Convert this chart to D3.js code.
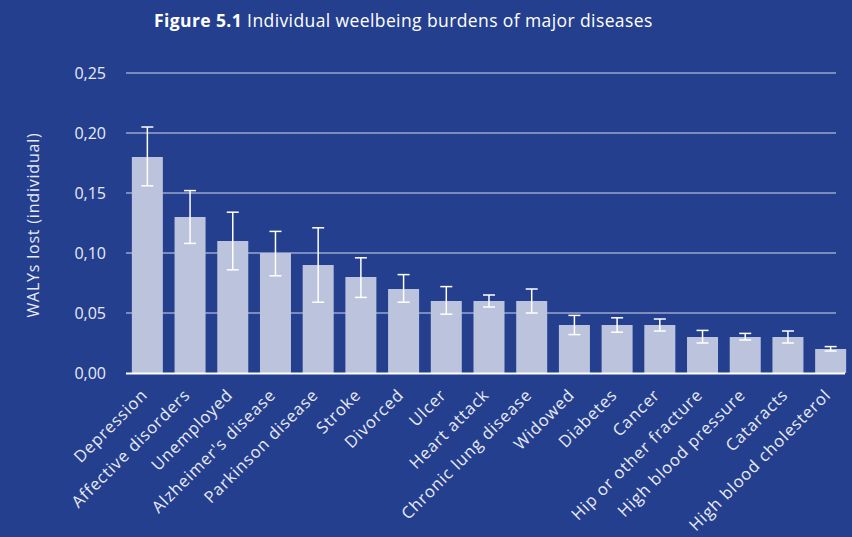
<!DOCTYPE html>
<html>
<head>
<meta charset="utf-8">
<script src="https://cdn.jsdelivr.net/npm/d3@7"></script>
<style>
  html, body { margin: 0; padding: 0; background: #253f8f; }
  svg { display: block; }
  text { font-family: "Open Sans", "Noto Sans", sans-serif; fill: #e8ebf5; }
</style>
</head>
<body>
<svg id="chart" width="852" height="537"></svg>
<script>
// Burden of each condition: WALYs lost per individual, with interval bounds
const categories = ["Depression", "Affective disorders", "Unemployed", "Alzheimer's disease",
  "Parkinson disease", "Stroke", "Divorced", "Ulcer", "Heart attack", "Chronic lung disease",
  "Widowed", "Diabetes", "Cancer", "Hip or other fracture", "High blood pressure",
  "Cataracts", "High blood cholesterol"];
const values = [0.18, 0.13, 0.11, 0.10, 0.09, 0.08, 0.07, 0.06, 0.06, 0.06,
  0.04, 0.04, 0.04, 0.03, 0.03, 0.03, 0.02];
const upper = [0.205, 0.152, 0.134, 0.118, 0.121, 0.096, 0.082, 0.072, 0.065, 0.070,
  0.048, 0.046, 0.045, 0.0355, 0.033, 0.035, 0.022];
const lower = [0.156, 0.108, 0.086, 0.081, 0.059, 0.063, 0.059, 0.049, 0.055, 0.050,
  0.032, 0.034, 0.035, 0.025, 0.0275, 0.025, 0.0183];
const yTicks = [0, 0.05, 0.10, 0.15, 0.20, 0.25];

const svg = d3.select("#chart");
const plotLeft = 126, plotRight = 852, plotTop = 73, plotBottom = 373;

const x = d3.scaleBand().domain(categories).range([plotLeft, plotRight])
  .paddingInner(0.274).paddingOuter(0.137);
const y = d3.scaleLinear().domain([0, 0.25]).range([plotBottom, plotTop]);
const fmt = v => d3.format(".2f")(v).replace(".", ",");

// title
const title = svg.append("text").attr("x", 154).attr("y", 27)
  .style("font-size", "17.5px").style("letter-spacing", "0.4px").style("fill", "#ffffff");
title.append("tspan").attr("font-weight", "bold").text("Figure 5.1");
title.append("tspan").text(" Individual weelbeing burdens of major diseases");

// gridlines and y tick labels
const yAxis = svg.append("g");
yAxis.selectAll("line.grid").data(yTicks.slice(1)).join("line")
  .attr("class", "grid")
  .attr("x1", plotLeft).attr("x2", 836)
  .attr("y1", d => y(d)).attr("y2", d => y(d))
  .attr("stroke", "#c3cae3").attr("stroke-opacity", 0.55).attr("stroke-width", 2);
yAxis.selectAll("text").data(yTicks).join("text")
  .attr("x", 106).attr("y", d => y(d)).attr("dy", "0.35em")
  .attr("text-anchor", "end").style("font-size", "16px")
  .text(fmt);

// y axis title
svg.append("text")
  .attr("transform", `translate(39,225) rotate(-90)`)
  .attr("text-anchor", "middle").style("font-size", "16px").style("letter-spacing", "0.8px")
  .text("WALYs lost (individual)");

// bars
svg.append("g").selectAll("rect").data(categories).join("rect")
  .attr("x", d => x(d)).attr("width", x.bandwidth())
  .attr("y", (d, i) => y(values[i])).attr("height", (d, i) => y(0) - y(values[i]))
  .attr("fill", "#bcc3dc");

// baseline
svg.append("line").attr("x1", plotLeft).attr("x2", 845)
  .attr("y1", plotBottom + 0.5).attr("y2", plotBottom + 0.5)
  .attr("stroke", "#ffffff").attr("stroke-width", 2);

// error bars
const eb = svg.append("g").attr("stroke", "#ffffff").attr("stroke-width", 1.5);
categories.forEach((c, i) => {
  const cx = x(c) + x.bandwidth() / 2;
  eb.append("line").attr("x1", cx).attr("x2", cx)
    .attr("y1", y(upper[i])).attr("y2", y(lower[i]));
  [upper[i], lower[i]].forEach(v => {
    eb.append("line").attr("x1", cx - 6).attr("x2", cx + 6)
      .attr("y1", y(v)).attr("y2", y(v));
  });
});

// category labels
svg.append("g").selectAll("text").data(categories).join("text")
  .attr("transform", d => `translate(${x(d) + x.bandwidth() / 2 - 3},${plotBottom + 19}) rotate(-45)`)
  .attr("text-anchor", "end").attr("dy", "0.35em")
  .style("font-size", "16.5px").style("letter-spacing", "0.85px")
  .text(d => d);
</script>
</body>
</html>
